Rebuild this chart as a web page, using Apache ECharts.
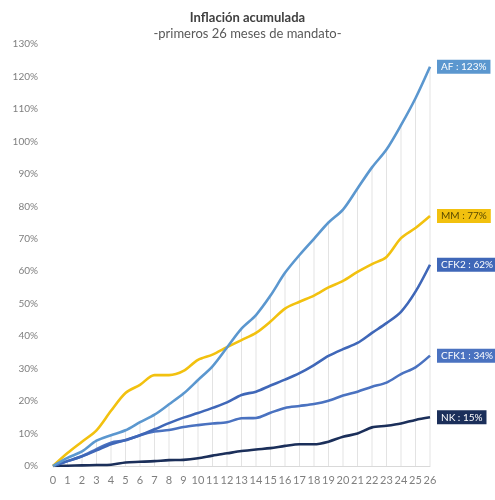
<!DOCTYPE html>
<html>
<head>
<meta charset="utf-8">
<script src="https://cdn.jsdelivr.net/npm/echarts@6/dist/echarts.min.js"></script>
<style>html,body{margin:0;padding:0;background:#fff}#c{width:495px;height:500px}</style>
</head>
<body>
<div id="c"></div>
<script>
const months = ['0','1','2','3','4','5','6','7','8','9','10','11','12','13','14','15','16','17','18','19','20','21','22','23','24','25','26'];
const AF   = [0,2.5,4.5,7.8,9.5,11,13.5,15.8,19,22.3,26.5,30.7,36.5,42.3,46.5,52.5,59.5,65,70,75,79,85.5,92,97.5,105,113.3,123];
const MM   = [0,4,7.5,11,17,22.5,25,28,28,29.3,32.7,34.3,36.6,38.8,41,44.5,48.5,50.6,52.5,55,57,59.8,62.2,64.4,70.2,73.3,77];
const CFK2 = [0,1.5,3,4.8,6.7,8,9.5,11.3,13.2,14.9,16.3,17.9,19.6,21.9,22.9,24.8,26.6,28.6,31.1,33.9,36,37.9,41,44,47.5,53.7,62];
const CFK1 = [0,1.5,3,5.2,7.2,7.9,9.5,10.6,11.1,12,12.6,13.1,13.5,14.7,14.8,16.4,17.9,18.5,19.1,20.1,21.7,22.9,24.4,25.7,28.3,30.4,34];
const NK   = [0,0.1,0.2,0.3,0.4,1.1,1.3,1.5,1.8,1.9,2.4,3.2,3.9,4.6,5.1,5.5,6.2,6.7,6.7,7.5,9,10,11.9,12.4,13.1,14.2,15];
const yTicks = [0,10,20,30,40,50,60,70,80,90,100,110,120,130];

const FONT = 'Lato';
function line(name, data, color, textColor) {
  return {
    name, type: 'line', data, smooth: 0.3, symbol: 'none', z: 5,
    lineStyle: { color, width: 2.6 },
    itemStyle: { color },
    endLabel: {
      show: true,
      formatter: p => p.seriesName + ' : ' + Math.round(p.value) + '%',
      backgroundColor: color, color: textColor, fontFamily: FONT, fontSize: 10,
      padding: [2, 4, 2, 4], distance: 7
    }
  };
}

const chart = echarts.init(document.getElementById('c'), null, { renderer: 'canvas' });
chart.setOption({
  animation: false,
  textStyle: { fontFamily: FONT },
  title: {
    text: 'Inflación acumulada',
    subtext: '-primeros 26 meses de mandato-',
    left: 'center', top: 6, itemGap: 3,
    textStyle: { fontSize: 13, fontWeight: 'bold', color: '#404040', fontFamily: FONT },
    subtextStyle: { fontSize: 13, color: '#595959', fontFamily: FONT }
  },
  grid: { left: 53, right: 65, top: 44, bottom: 34 },
  xAxis: {
    type: 'category', data: months, boundaryGap: false,
    axisLine: { lineStyle: { color: '#d9d9d9', width: 1 } },
    axisTick: { show: false },
    axisLabel: { color: '#7f7f7f', fontSize: 11, margin: 9, interval: 0, fontFamily: FONT },
    splitLine: { show: false }
  },
  yAxis: {
    type: 'value', min: 0, max: yTicks[yTicks.length - 1], interval: 10,
    axisLine: { show: false }, axisTick: { show: false },
    splitLine: { show: false },
    axisLabel: { color: '#7f7f7f', fontSize: 10, margin: 15, formatter: '{value}%', fontFamily: FONT }
  },
  series: [
    { name: 'grid', type: 'bar', data: AF, barWidth: 1, z: 1, silent: true,
      itemStyle: { color: '#e3e3e3' } },
    line('NK', NK, '#1b2f5a', '#ffffff'),
    line('CFK1', CFK1, '#4a72c0', '#ffffff'),
    line('CFK2', CFK2, '#3f67b8', '#ffffff'),
    line('MM', MM, '#f2c10f', '#5a4a00'),
    line('AF', AF, '#5b97cf', '#ffffff')
  ]
});
</script>
</body>
</html>
